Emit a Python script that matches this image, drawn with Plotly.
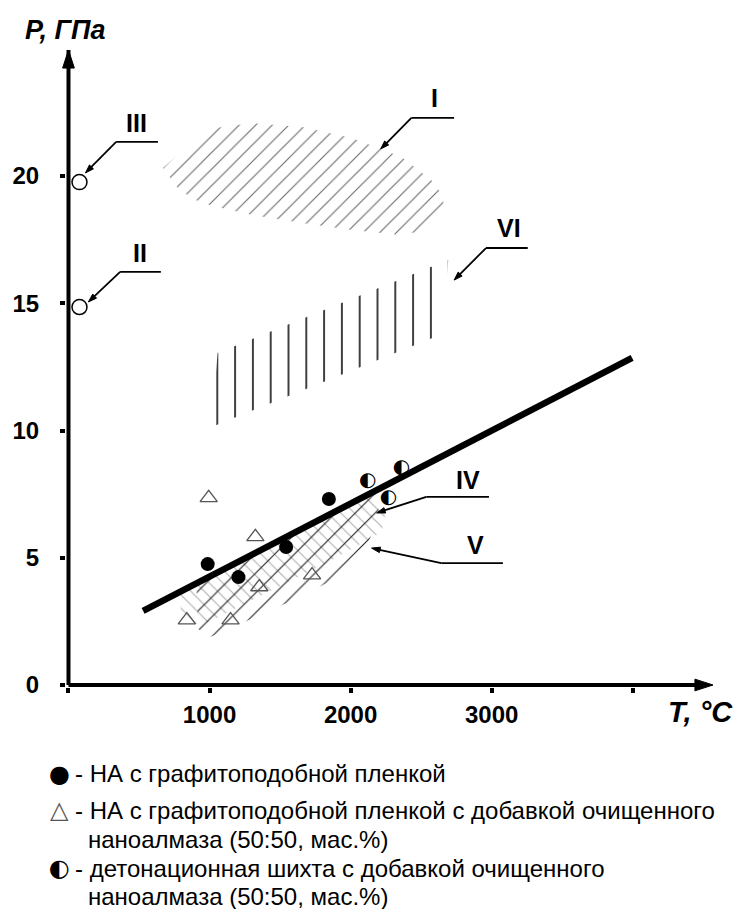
import plotly.graph_objects as go

# ---------------- data (T in °C, P in GPa) ----------------
t_filled = [987, 1205, 1543, 1846]
p_filled = [4.75, 4.24, 5.42, 7.31]

t_tri = [994, 1325, 1353, 1727, 839, 1149]
p_tri = [7.35, 5.82, 3.85, 4.32, 2.55, 2.55]

t_half = [2121, 2361, 2269]
p_half = [8.02, 8.53, 7.35]

t_open = [78, 78]
p_open = [19.76, 14.85]

t_fit = [529, 3996]
p_fit = [2.91, 12.85]

# hatched regions (boundary vertices)
reg1_t = [669, 987, 1304, 1656, 2008, 2361, 2572, 2657, 2657, 2537, 2361, 2008, 1656, 1304, 1022, 881, 775]
reg1_p = [20.31, 21.85, 22.08, 21.93, 21.49, 20.75, 19.84, 19.21, 18.51, 17.88, 17.68, 17.88, 18.15, 18.47, 18.82, 19.10, 19.53]

reg6_t = [1015, 1057, 2692, 2650]
reg6_p = [10.14, 13.05, 16.70, 13.79]

reg4_t = [775, 2164, 2255, 2220, 1867, 1304, 951, 810]
reg4_p = [3.65, 7.58, 6.95, 6.01, 4.91, 3.34, 2.36, 2.55]

reg5_t = [906, 2190, 2200, 2046, 1600, 1001, 920]
reg5_p = [3.96, 7.62, 6.55, 4.62, 3.35, 1.88, 2.20]

# region labels: name, label pos, elbow, horizontal end, arrow tip
lab_names = ["III", "II", "I", "VI", "IV", "V"]
lab_t = [479, 507, 2593, 3122, 2833, 2889]
lab_p = [22.08, 16.97, 23.06, 17.96, 8.06, 5.50]
elb_t = [338, 366, 2431, 2960, 2537, 2643]
elb_p = [21.34, 16.23, 22.28, 17.17, 7.39, 4.79]
end_t = [634, 655, 2734, 3256, 2981, 3080]
tip_t = [120, 141, 2213, 2734, 2185, 2149]
tip_p = [20.12, 15.05, 21.06, 15.91, 6.76, 5.38]

x_ticks = [1000, 2000, 3000]
x_ticktext = ["1000", "2000", "3000"]
x_minor_ticks = [0, 4000]
y_ticks = [0, 5, 10, 15, 20]
y_ticktext = ["0", "5", "10", "15", "20"]

legend_symbols = ["●", "△", "◐"]
legend_lines = [
    "- НА с графитоподобной пленкой",
    "- НА с графитоподобной пленкой с добавкой очищенного",
    "наноалмаза (50:50, мас.%)",
    "- детонационная шихта с добавкой очищенного",
    "наноалмаза (50:50, мас.%)",
]

# ---------------- layout geometry ----------------
X0PX, KX = 65.5, 0.1417      # px of T=0, px per °C
Y0PX, KY = 685.0, 25.45      # px of P=0, px per GPa
def dx(px):
    return (px - X0PX) / KX
def dy(py):
    return (Y0PX - py) / KY

L, R, T_, B = 63, 27, 50, 222
PW, PH = 740 - L - R, 909 - T_ - B
xr = [dx(L), dx(740 - R)]
yr = [dy(909 - B), dy(T_)]
def qx(px):  # paper x
    return (px - L) / PW
def qy(py):  # paper y
    return (909 - B - py) / PH

FONT = "Liberation Sans"
fig = go.Figure()

def hatch(tx, py, shape, color, size, sol):
    fig.add_trace(go.Scatter(
        x=tx + [tx[0]], y=py + [py[0]], mode="none", fill="toself",
        fillcolor="rgba(0,0,0,0)",
        fillpattern=dict(shape=shape, fgcolor=color, bgcolor="rgba(255,255,255,0)",
                         size=size, solidity=sol, fillmode="replace"),
        hoverinfo="skip"))

hatch(reg1_t, reg1_p, "/", "#666666", 11.7, 0.09)
hatch(reg6_t, reg6_p, "|", "#111111", 17.8, 0.09)
hatch(reg4_t, reg4_p, "\\", "#b0b0b0", 9.5, 0.12)
hatch(reg5_t, reg5_p, "/", "#222222", 14, 0.08)

# fit line
fig.add_trace(go.Scatter(x=t_fit, y=p_fit, mode="lines",
                         line=dict(color="black", width=6.5), hoverinfo="skip"))

def arrow_marker(size):
    return dict(symbol="arrow", angleref="previous", size=[0, size], color="black",
                opacity=1, line=dict(width=1, color="black"))

# leader lines: horizontal underline + arrowed diagonal
for i in range(len(lab_names)):
    fig.add_trace(go.Scatter(x=[elb_t[i], end_t[i]], y=[elb_p[i], elb_p[i]], mode="lines",
                             line=dict(color="black", width=1.8), hoverinfo="skip"))
    fig.add_trace(go.Scatter(x=[elb_t[i], tip_t[i]], y=[elb_p[i], tip_p[i]],
                             mode="lines+markers", cliponaxis=False,
                             line=dict(color="black", width=1.8),
                             marker=arrow_marker(9), hoverinfo="skip"))

# axes with arrowheads
fig.add_trace(go.Scatter(x=[0, 0], y=[0, yr[1]], mode="lines+markers", cliponaxis=False,
                         line=dict(color="black", width=4),
                         marker=arrow_marker(19), hoverinfo="skip"))
fig.add_trace(go.Scatter(x=[0, xr[1]], y=[0, 0], mode="lines+markers", cliponaxis=False,
                         line=dict(color="black", width=4),
                         marker=arrow_marker(19), hoverinfo="skip"))

# points
fig.add_trace(go.Scatter(x=t_filled, y=p_filled, mode="markers",
                         marker=dict(symbol="circle", size=14, color="black")))
fig.add_trace(go.Scatter(x=t_tri, y=p_tri, mode="markers",
                         marker=dict(symbol="triangle-up-open", size=15, color="#555555",
                                     line=dict(width=1.3, color="#555555"))))
fig.add_trace(go.Scatter(x=t_half, y=p_half, mode="text", text=["◐"] * len(t_half),
                         textposition="middle center",
                         textfont=dict(family="DejaVu Sans", size=20, color="black")))
fig.add_trace(go.Scatter(x=t_open, y=p_open, mode="markers", cliponaxis=False,
                         marker=dict(symbol="circle", size=15, color="white",
                                     line=dict(width=1.5, color="black"))))

# region labels
for i, name in enumerate(lab_names):
    fig.add_annotation(x=lab_t[i], y=lab_p[i], xref="x", yref="y", text=name, showarrow=False,
                       font=dict(family=FONT, size=25, color="black", weight="bold"))

# axis titles
fig.add_annotation(x=qx(62), y=qy(30), xref="paper", yref="paper", text="P, ГПа",
                   showarrow=False, xanchor="center", yanchor="middle",
                   font=dict(family=FONT, size=27, color="black", weight="bold", style="italic"))
fig.add_annotation(x=qx(700), y=qy(712), xref="paper", yref="paper",
                   text="T, °C", showarrow=False,
                   xanchor="center", yanchor="middle",
                   font=dict(family=FONT, size=29, color="black", weight="bold", style="italic"))

# legend (text)
sym_y = [774, 810, 868]
sym_col = ["black", "#555555", "black"]
for s, yy, c in zip(legend_symbols, sym_y, sym_col):
    fig.add_annotation(x=qx(56), y=qy(yy), xref="paper", yref="paper", text=s, showarrow=False,
                       xanchor="center", yanchor="middle",
                       font=dict(family="DejaVu Sans", size=24, color=c))
line_y = [774, 810, 839, 868, 896]
line_x = [70, 70, 83, 70, 83]
for txt, yy, xx in zip(legend_lines, line_y, line_x):
    fig.add_annotation(x=qx(xx), y=qy(yy), xref="paper", yref="paper", text=txt,
                       showarrow=False, xanchor="left", yanchor="middle",
                       font=dict(family=FONT, size=24, color="black"))

fig.update_layout(
    width=740, height=909, margin=dict(l=L, r=R, t=T_, b=B),
    paper_bgcolor="white", plot_bgcolor="white", showlegend=False,
    font=dict(family=FONT, color="black"),
    xaxis=dict(range=xr, showgrid=False, zeroline=False, showline=False,
               ticks="outside", ticklen=5, tickwidth=4, tickcolor="black",
               tickvals=x_ticks, ticktext=x_ticktext, ticklabelstandoff=1,
               minor=dict(tickmode="array", tickvals=x_minor_ticks, ticks="outside",
                          ticklen=5, tickwidth=4, tickcolor="black", showgrid=False),
               tickfont=dict(family=FONT, size=24, weight="bold", color="black")),
    yaxis=dict(range=yr, showgrid=False, zeroline=False, showline=False,
               ticks="outside", ticklen=5, tickwidth=4, tickcolor="black",
               tickvals=y_ticks, ticktext=y_ticktext, ticklabelstandoff=16,
               tickfont=dict(family=FONT, size=24, weight="bold", color="black")),
)

fig.write_html("out.html", config={"displayModeBar": False},
               post_script="document.body.style.margin='0px';")
